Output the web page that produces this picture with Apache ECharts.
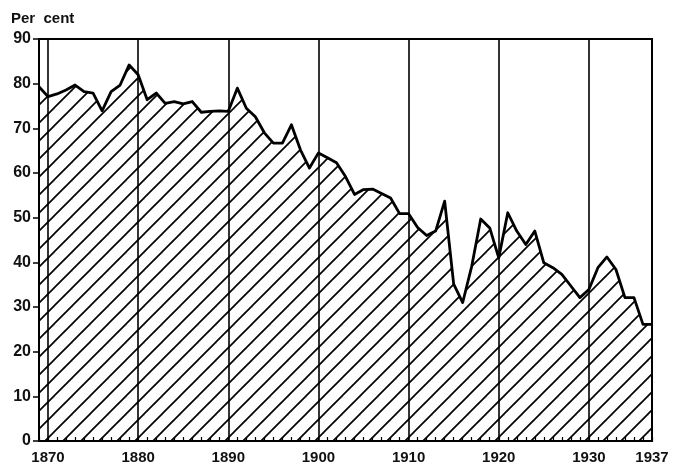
<!DOCTYPE html>
<html>
<head>
<meta charset="utf-8">
<script src="https://cdn.jsdelivr.net/npm/echarts@6/dist/echarts.min.js"></script>
<style>
html,body{margin:0;padding:0;background:#fff;}
#chart{width:673px;height:465px;}
</style>
</head>
<body>
<div id="chart"></div>
<script>
var years = [];
for (var y = 1869; y <= 1937; y++) years.push(String(y));

var perCent = [
  79.3, 77.1, 77.7, 78.6, 79.7, 78.2, 77.9, 73.9, 78.2, 79.7,
  84.2, 82.0, 76.4, 77.9, 75.6, 76.0, 75.5, 76.0, 73.6, 73.8,
  73.9, 73.8, 79.0, 74.5, 72.6, 69.0, 66.7, 66.7, 70.8, 65.2,
  61.1, 64.5, 63.4, 62.3, 59.2, 55.2, 56.3, 56.4, 55.4, 54.4,
  50.9, 50.9, 47.8, 46.0, 47.0, 53.7, 35.1, 31.0, 39.1, 49.7,
  47.7, 41.0, 51.1, 47.0, 44.0, 47.0, 39.9, 38.8, 37.3, 34.7,
  32.1, 33.9, 38.8, 41.2, 38.4, 32.1, 32.1, 26.1, 26.1
];

var labelYears = ['1870','1880','1890','1900','1910','1920','1930','1937'];
var gridYears = ['1870','1880','1890','1900','1910','1920','1930'];
var yTitle = 'Per  cent';

function hatch() {
  var W = 18, H = 18;
  var c = document.createElement('canvas');
  c.width = W; c.height = H;
  var g = c.getContext('2d');
  g.strokeStyle = '#000';
  g.lineWidth = 1.7;
  [-W, 0, W].forEach(function (dx) {
    g.beginPath();
    g.moveTo(dx - W, 2 * H);
    g.lineTo(dx + 2 * W, -H);
    g.stroke();
  });
  return c;
}

var chart = echarts.init(document.getElementById('chart'), null, {renderer: 'canvas'});
chart.setOption({
  animation: false,
  backgroundColor: '#fff',
  grid: {left: 39, right: 21, top: 39, bottom: 23, show: true, borderColor: '#000', borderWidth: 2},
  graphic: [{
    type: 'text', left: 11, top: 11,
    style: {text: yTitle, font: 'bold 15px "Liberation Sans Narrow", "Liberation Sans", sans-serif', fill: '#111'}
  }],
  xAxis: {
    type: 'category',
    data: years,
    boundaryGap: false,
    z: 5,
    axisLine: {lineStyle: {color: '#000', width: 2}},
    axisTick: {show: true, inside: true, length: 4, interval: 0, lineStyle: {color: '#000', width: 1.2}},
    axisLabel: {
      interval: function (i, v) { return labelYears.indexOf(v) >= 0; },
      margin: 9, color: '#111',
      fontFamily: '"Liberation Sans Narrow", "Liberation Sans", sans-serif',
      fontWeight: 'bold', fontSize: 15
    },
    splitLine: {
      show: true,
      interval: function (i, v) { return gridYears.indexOf(v) >= 0; },
      lineStyle: {color: '#000', width: 1.6}
    }
  },
  yAxis: {
    type: 'value', min: 0, max: 90, interval: 10,
    z: 5,
    axisLine: {show: true, lineStyle: {color: '#000', width: 2}},
    axisTick: {show: true, length: 6, lineStyle: {color: '#000', width: 1.5}},
    axisLabel: {
      margin: 8, color: '#111',
      fontFamily: '"Liberation Sans", sans-serif',
      fontWeight: 'bold', fontSize: 16
    },
    splitLine: {show: false}
  },
  series: [{
    type: 'line',
    data: perCent,
    symbol: 'none',
    lineStyle: {color: '#000', width: 2.8, join: 'round'},
    areaStyle: {color: {image: hatch(), repeat: 'repeat'}, opacity: 1},
    z: 1
  }]
});
</script>
</body>
</html>
